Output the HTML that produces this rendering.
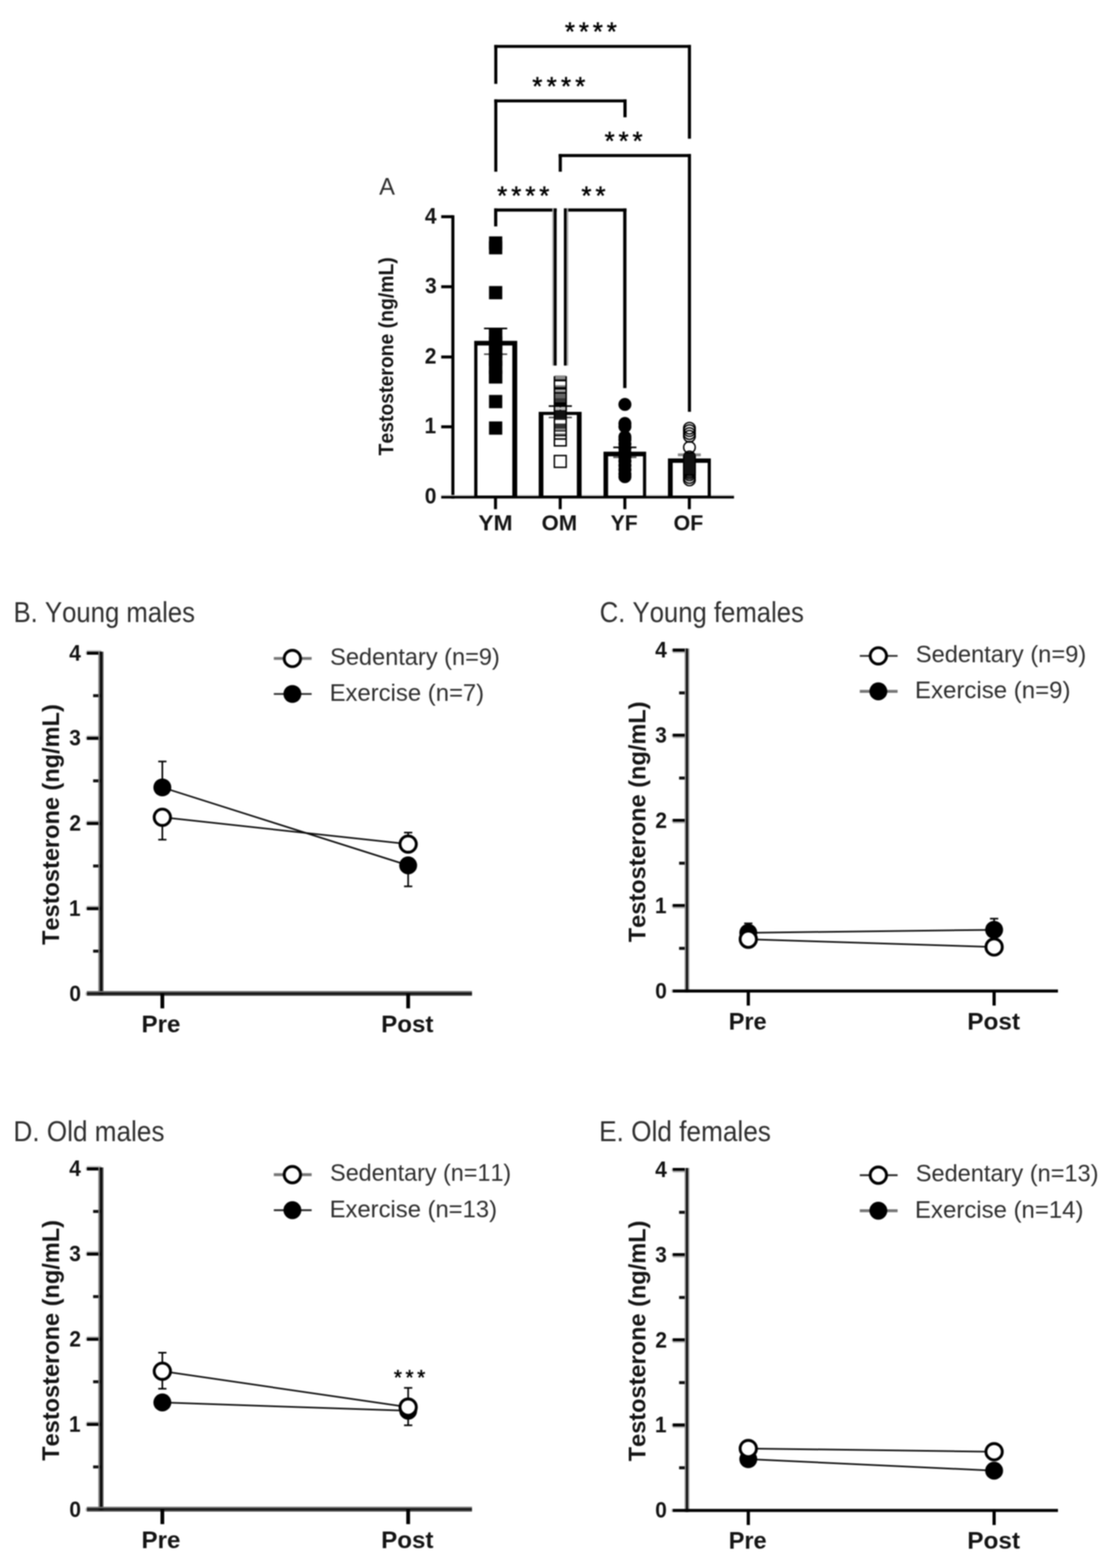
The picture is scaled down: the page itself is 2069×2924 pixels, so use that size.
<!DOCTYPE html>
<html lang="en"><head><meta charset="utf-8"><title>Testosterone figure</title>
<style>
html,body{margin:0;padding:0;background:#fff;}
body{width:2069px;height:2924px;overflow:hidden;}
svg{display:block;font-family:"Liberation Sans",Arial,Helvetica,sans-serif;fill:#000;filter:blur(1.0px);}
svg text{fill:#141414;font-kerning:none;}
svg text.r{fill:#2e2e2e;}
svg text.s{fill:#000;stroke:#000;stroke-width:0.9px;}
</style></head><body>
<svg role="img" aria-label="Testosterone figure" width="2069" height="2924" viewBox="0 0 2069 2924" shape-rendering="geometricPrecision">
<rect x="0" y="0" width="2069" height="2924" fill="#fff"/>
<rect x="841.3" y="401.4" width="5.7" height="528.3" fill="#000"/>
<rect x="822.4" y="924.8" width="545.8" height="4.8" fill="#000"/>
<rect x="822.4" y="922.9" width="545.8" height="1.9" fill="#c4c4c4"/>
<rect x="822.4" y="401.3" width="21.6" height="5.6" fill="#000"/>
<rect x="822.4" y="531.9" width="21.6" height="5.6" fill="#000"/>
<rect x="822.4" y="662.9" width="21.6" height="5.6" fill="#000"/>
<rect x="822.4" y="793.1" width="21.6" height="5.6" fill="#000"/>
<rect x="920.8" y="927.0" width="5.6" height="22.5" fill="#000"/>
<rect x="1041.4" y="927.0" width="5.6" height="22.5" fill="#000"/>
<rect x="1161.9" y="927.0" width="5.6" height="22.5" fill="#000"/>
<rect x="1282.1" y="927.0" width="5.6" height="22.5" fill="#000"/>
<rect x="883.9" y="635.6" width="80.2" height="291.4" fill="#000"/>
<rect x="889.9" y="644.3" width="65.0" height="279.8" fill="#fff"/>
<rect x="1004.1" y="768.0" width="80.0" height="159.0" fill="#000"/>
<rect x="1012.9" y="773.8" width="62.3" height="150.3" fill="#fff"/>
<rect x="1124.9" y="842.3" width="79.5" height="84.7" fill="#000"/>
<rect x="1133.5" y="850.9" width="65.0" height="73.2" fill="#fff"/>
<rect x="1245.0" y="854.9" width="80.0" height="72.1" fill="#000"/>
<rect x="1253.9" y="863.1" width="65.2" height="61.0" fill="#fff"/>
<line x1="923.8" y1="612.4" x2="923.8" y2="660.6" stroke="#000" stroke-width="3.0" stroke-linecap="butt"/>
<line x1="902.2" y1="612.4" x2="945.4" y2="612.4" stroke="#000" stroke-width="3.0" stroke-linecap="butt"/>
<line x1="902.2" y1="660.6" x2="945.4" y2="660.6" stroke="#555" stroke-width="3.0" stroke-linecap="butt"/>
<line x1="1044.4" y1="757.3" x2="1044.4" y2="778.6" stroke="#000" stroke-width="3.0" stroke-linecap="butt"/>
<line x1="1022.8" y1="757.3" x2="1066.0" y2="757.3" stroke="#000" stroke-width="3.0" stroke-linecap="butt"/>
<line x1="1022.8" y1="778.6" x2="1066.0" y2="778.6" stroke="#555" stroke-width="3.0" stroke-linecap="butt"/>
<line x1="1164.7" y1="834.2" x2="1164.7" y2="852.8" stroke="#000" stroke-width="3.0" stroke-linecap="butt"/>
<line x1="1143.1" y1="834.2" x2="1186.3" y2="834.2" stroke="#000" stroke-width="3.0" stroke-linecap="butt"/>
<line x1="1143.1" y1="852.8" x2="1186.3" y2="852.8" stroke="#555" stroke-width="3.0" stroke-linecap="butt"/>
<line x1="1263.5" y1="848.2" x2="1306.3" y2="848.2" stroke="#8a8a8a" stroke-width="5.2" stroke-linecap="butt"/>
<rect x="911.5" y="440.8" width="24.7" height="24.7" fill="#000"/>
<rect x="911.5" y="449.6" width="24.7" height="24.7" fill="#000"/>
<rect x="911.5" y="533.4" width="24.7" height="24.7" fill="#000"/>
<rect x="911.5" y="614.0" width="24.7" height="24.7" fill="#000"/>
<rect x="911.5" y="627.6" width="24.7" height="24.7" fill="#000"/>
<rect x="911.5" y="642.6" width="24.7" height="24.7" fill="#000"/>
<rect x="911.5" y="657.6" width="24.7" height="24.7" fill="#000"/>
<rect x="911.5" y="672.6" width="24.7" height="24.7" fill="#000"/>
<rect x="911.5" y="690.4" width="24.7" height="24.7" fill="#000"/>
<rect x="911.5" y="736.5" width="24.7" height="24.7" fill="#000"/>
<rect x="911.5" y="785.9" width="24.7" height="24.7" fill="#000"/>
<rect x="911.5" y="614.0" width="24.7" height="101.2" fill="#000"/>
<rect x="1034.0" y="700.1" width="20.7" height="7.3" fill="#8c8c8c"/>
<rect x="1034.0" y="707.4" width="20.7" height="3.8" fill="#000"/>
<rect x="1034.0" y="718.4" width="20.7" height="3.6" fill="#777"/>
<rect x="1034.0" y="722.0" width="20.7" height="4.7" fill="#000"/>
<rect x="1034.0" y="727.6" width="20.7" height="3.6" fill="#999"/>
<rect x="1034.0" y="731.2" width="20.7" height="2.8" fill="#000"/>
<rect x="1034.0" y="734.0" width="20.7" height="8.2" fill="#666"/>
<rect x="1034.0" y="742.2" width="20.7" height="7.3" fill="#333"/>
<rect x="1034.0" y="749.5" width="20.7" height="9.2" fill="#000"/>
<rect x="1034.0" y="759.5" width="20.7" height="4.5" fill="#bbb"/>
<rect x="1034.0" y="764.6" width="20.7" height="16.8" fill="#111"/>
<rect x="1034.0" y="781.4" width="20.7" height="1.6" fill="#000"/>
<rect x="1034.0" y="789.8" width="20.7" height="9.2" fill="#333"/>
<rect x="1034.0" y="799.0" width="20.7" height="3.6" fill="#888"/>
<rect x="1034.0" y="802.6" width="20.7" height="2.1" fill="#000"/>
<rect x="1034.0" y="808.1" width="20.7" height="2.7" fill="#777"/>
<rect x="1034.0" y="810.8" width="20.7" height="2.8" fill="#000"/>
<rect x="1034.0" y="817.2" width="20.7" height="3.0" fill="#000"/>
<rect x="1034.0" y="830.0" width="20.7" height="2.8" fill="#000"/>
<rect x="1032.0" y="701.5" width="2.8" height="131.3" fill="#000"/>
<rect x="1053.9" y="701.5" width="2.8" height="131.3" fill="#000"/>
<rect x="1033.3" y="849.5" width="22.0" height="22.0" fill="none" stroke="#000" stroke-width="2.7"/>
<circle cx="1164.8" cy="754.2" r="12.10" fill="#000"/>
<circle cx="1164.8" cy="789.7" r="12.10" fill="#000"/>
<circle cx="1164.8" cy="795.5" r="12.10" fill="#000"/>
<circle cx="1164.8" cy="814.9" r="12.10" fill="#000"/>
<circle cx="1164.8" cy="820.0" r="12.10" fill="#000"/>
<circle cx="1164.8" cy="828.0" r="12.10" fill="#000"/>
<circle cx="1164.8" cy="836.0" r="12.10" fill="#000"/>
<circle cx="1164.8" cy="844.0" r="12.10" fill="#000"/>
<circle cx="1164.8" cy="852.0" r="12.10" fill="#000"/>
<circle cx="1164.8" cy="860.0" r="12.10" fill="#000"/>
<circle cx="1164.8" cy="868.0" r="12.10" fill="#000"/>
<circle cx="1164.8" cy="876.0" r="12.10" fill="#000"/>
<circle cx="1164.8" cy="884.0" r="12.10" fill="#000"/>
<circle cx="1164.8" cy="888.9" r="12.10" fill="#000"/>
<circle cx="1285.1" cy="798.5" r="10.80" fill="none" stroke="#000" stroke-width="2.6"/>
<circle cx="1285.1" cy="803.0" r="10.80" fill="none" stroke="#000" stroke-width="2.6"/>
<circle cx="1285.1" cy="808.5" r="10.80" fill="none" stroke="#000" stroke-width="2.6"/>
<circle cx="1285.1" cy="813.6" r="10.80" fill="none" stroke="#000" stroke-width="2.6"/>
<circle cx="1285.1" cy="834.2" r="10.80" fill="none" stroke="#000" stroke-width="2.6"/>
<circle cx="1285.1" cy="852.0" r="10.80" fill="none" stroke="#000" stroke-width="2.6"/>
<circle cx="1285.1" cy="855.0" r="10.80" fill="none" stroke="#000" stroke-width="2.6"/>
<circle cx="1285.1" cy="858.0" r="10.80" fill="none" stroke="#000" stroke-width="2.6"/>
<circle cx="1285.1" cy="861.0" r="10.80" fill="none" stroke="#000" stroke-width="2.6"/>
<circle cx="1285.1" cy="864.0" r="10.80" fill="none" stroke="#000" stroke-width="2.6"/>
<circle cx="1285.1" cy="867.0" r="10.80" fill="none" stroke="#000" stroke-width="2.6"/>
<circle cx="1285.1" cy="870.0" r="10.80" fill="none" stroke="#000" stroke-width="2.6"/>
<circle cx="1285.1" cy="873.0" r="10.80" fill="none" stroke="#000" stroke-width="2.6"/>
<circle cx="1285.1" cy="876.0" r="10.80" fill="none" stroke="#000" stroke-width="2.6"/>
<circle cx="1285.1" cy="879.0" r="10.80" fill="none" stroke="#000" stroke-width="2.6"/>
<circle cx="1285.1" cy="882.0" r="10.80" fill="none" stroke="#000" stroke-width="2.6"/>
<circle cx="1285.1" cy="885.5" r="10.80" fill="none" stroke="#000" stroke-width="2.6"/>
<circle cx="1285.1" cy="890.5" r="10.80" fill="none" stroke="#000" stroke-width="2.6"/>
<circle cx="1285.1" cy="894.9" r="10.80" fill="none" stroke="#000" stroke-width="2.6"/>
<rect x="1275.5" y="846.0" width="19.2" height="38.0" fill="#111"/>
<rect x="921.3" y="83.8" width="366.7" height="5.5" fill="#000"/>
<rect x="921.3" y="83.8" width="5.7" height="72.6" fill="#000"/>
<rect x="1282.2" y="83.8" width="5.8" height="174.8" fill="#000"/>
<rect x="921.3" y="185.4" width="246.7" height="5.5" fill="#000"/>
<rect x="921.3" y="185.4" width="5.7" height="134.8" fill="#000"/>
<rect x="1162.0" y="185.4" width="6.0" height="33.3" fill="#000"/>
<rect x="1041.4" y="287.2" width="246.6" height="5.7" fill="#000"/>
<rect x="1041.4" y="287.2" width="5.9" height="33.0" fill="#000"/>
<rect x="1282.2" y="287.2" width="5.8" height="480.7" fill="#000"/>
<rect x="921.0" y="388.7" width="116.6" height="5.9" fill="#000"/>
<rect x="921.0" y="388.7" width="5.9" height="33.5" fill="#000"/>
<rect x="1032.1" y="388.7" width="5.5" height="293.0" fill="#000"/>
<rect x="1029.4" y="388.7" width="2.7" height="293.0" fill="#aaa"/>
<rect x="1051.0" y="388.7" width="116.7" height="5.9" fill="#000"/>
<rect x="1051.0" y="388.7" width="5.4" height="293.0" fill="#000"/>
<rect x="1056.4" y="388.7" width="2.9" height="293.0" fill="#aaa"/>
<rect x="1161.6" y="388.7" width="6.1" height="335.0" fill="#000"/>
<rect x="161.7" y="1689.0" width="26.9" height="2.7" fill="#b8b8b8"/>
<rect x="161.7" y="1691.6" width="26.9" height="5.7" fill="#000"/>
<rect x="159.4" y="1691.6" width="2.3" height="5.2" fill="#c8c8c8"/>
<rect x="161.7" y="1530.2" width="26.9" height="2.7" fill="#b8b8b8"/>
<rect x="161.7" y="1532.8" width="26.9" height="5.7" fill="#000"/>
<rect x="159.4" y="1532.8" width="2.3" height="5.2" fill="#c8c8c8"/>
<rect x="161.7" y="1371.4" width="26.9" height="2.7" fill="#b8b8b8"/>
<rect x="161.7" y="1374.0" width="26.9" height="5.7" fill="#000"/>
<rect x="159.4" y="1374.0" width="2.3" height="5.2" fill="#c8c8c8"/>
<rect x="161.7" y="1212.6" width="26.9" height="2.7" fill="#b8b8b8"/>
<rect x="161.7" y="1215.2" width="26.9" height="5.7" fill="#000"/>
<rect x="159.4" y="1215.2" width="2.3" height="5.2" fill="#c8c8c8"/>
<rect x="173.6" y="1770.9" width="15.0" height="5.6" fill="#111"/>
<rect x="173.6" y="1612.1" width="15.0" height="5.6" fill="#111"/>
<rect x="173.6" y="1453.3" width="15.0" height="5.6" fill="#111"/>
<rect x="173.6" y="1294.5" width="15.0" height="5.6" fill="#111"/>
<rect x="183.3" y="1215.2" width="3.0" height="641.0" fill="#7a7a7a"/>
<rect x="186.3" y="1215.2" width="3.7" height="641.0" fill="#000"/>
<rect x="190.0" y="1215.2" width="2.8" height="641.0" fill="#484848"/>
<rect x="161.7" y="1848.0" width="718.1" height="3.1" fill="#6a6a6a"/>
<rect x="161.7" y="1851.1" width="718.1" height="2.8" fill="#000"/>
<rect x="161.7" y="1853.9" width="718.1" height="3.0" fill="#3a3a3a"/>
<rect x="159.2" y="1850.4" width="2.5" height="5.7" fill="#bdbdbd"/>
<rect x="299.1" y="1853.2" width="7.0" height="27.2" fill="#000"/>
<rect x="757.3" y="1853.2" width="7.0" height="27.2" fill="#000"/>
<line x1="302.6" y1="1468.4" x2="760.8" y2="1613.8" stroke="#0c0c0c" stroke-width="3.0" stroke-linecap="butt"/>
<line x1="302.6" y1="1524.1" x2="760.8" y2="1574.1" stroke="#0c0c0c" stroke-width="3.0" stroke-linecap="butt"/>
<line x1="302.6" y1="1468.4" x2="302.6" y2="1420.0" stroke="#000" stroke-width="3.0" stroke-linecap="butt"/>
<line x1="294.9" y1="1420.0" x2="310.3" y2="1420.0" stroke="#000" stroke-width="3.0" stroke-linecap="butt"/>
<line x1="760.8" y1="1613.8" x2="760.8" y2="1652.9" stroke="#000" stroke-width="3.0" stroke-linecap="butt"/>
<line x1="753.1" y1="1652.9" x2="768.5" y2="1652.9" stroke="#000" stroke-width="3.0" stroke-linecap="butt"/>
<circle cx="302.6" cy="1468.4" r="16.70" fill="#000"/>
<circle cx="760.8" cy="1613.8" r="16.70" fill="#000"/>
<line x1="302.6" y1="1524.1" x2="302.6" y2="1565.8" stroke="#000" stroke-width="3.0" stroke-linecap="butt"/>
<line x1="294.9" y1="1565.8" x2="310.3" y2="1565.8" stroke="#000" stroke-width="3.0" stroke-linecap="butt"/>
<line x1="760.8" y1="1574.1" x2="760.8" y2="1552.6" stroke="#000" stroke-width="3.0" stroke-linecap="butt"/>
<line x1="753.1" y1="1552.6" x2="768.5" y2="1552.6" stroke="#000" stroke-width="3.0" stroke-linecap="butt"/>
<circle cx="302.6" cy="1524.1" r="15.20" fill="#fff" stroke="#000" stroke-width="5.4"/>
<circle cx="760.8" cy="1574.1" r="15.20" fill="#fff" stroke="#000" stroke-width="5.4"/>
<line x1="510.4" y1="1227.9" x2="580.9" y2="1227.9" stroke="#777" stroke-width="5.4" stroke-linecap="butt"/>
<circle cx="545.0" cy="1227.9" r="15.20" fill="#fff" stroke="#000" stroke-width="5.4"/>
<line x1="510.4" y1="1294.1" x2="580.9" y2="1294.1" stroke="#2a2a2a" stroke-width="3.4" stroke-linecap="butt"/>
<circle cx="545.0" cy="1294.1" r="16.70" fill="#000"/>
<rect x="1253.9" y="1685.8" width="26.9" height="5.6" fill="#000"/>
<rect x="1253.9" y="1691.4" width="26.9" height="2.7" fill="#b0b0b0"/>
<rect x="1251.6" y="1686.4" width="2.3" height="5.2" fill="#c8c8c8"/>
<rect x="1253.9" y="1527.0" width="26.9" height="5.6" fill="#000"/>
<rect x="1253.9" y="1532.6" width="26.9" height="2.7" fill="#b0b0b0"/>
<rect x="1251.6" y="1527.6" width="2.3" height="5.2" fill="#c8c8c8"/>
<rect x="1253.9" y="1368.2" width="26.9" height="5.6" fill="#000"/>
<rect x="1253.9" y="1373.8" width="26.9" height="2.7" fill="#b0b0b0"/>
<rect x="1251.6" y="1368.8" width="2.3" height="5.2" fill="#c8c8c8"/>
<rect x="1253.9" y="1209.4" width="26.9" height="5.6" fill="#000"/>
<rect x="1253.9" y="1215.0" width="26.9" height="2.7" fill="#b0b0b0"/>
<rect x="1251.6" y="1210.0" width="2.3" height="5.2" fill="#c8c8c8"/>
<rect x="1265.8" y="1765.7" width="15.0" height="5.6" fill="#111"/>
<rect x="1265.8" y="1606.9" width="15.0" height="5.6" fill="#111"/>
<rect x="1265.8" y="1448.1" width="15.0" height="5.6" fill="#111"/>
<rect x="1265.8" y="1289.3" width="15.0" height="5.6" fill="#111"/>
<rect x="1276.2" y="1209.4" width="2.7" height="641.6" fill="#858585"/>
<rect x="1278.9" y="1209.4" width="3.1" height="641.6" fill="#000"/>
<rect x="1282.0" y="1209.4" width="2.8" height="641.6" fill="#858585"/>
<rect x="1253.9" y="1845.2" width="718.1" height="5.7" fill="#000"/>
<rect x="1251.4" y="1845.2" width="2.5" height="5.7" fill="#bdbdbd"/>
<rect x="1391.8" y="1848.0" width="6.0" height="27.2" fill="#000"/>
<rect x="1850.0" y="1848.0" width="6.0" height="27.2" fill="#000"/>
<line x1="1394.8" y1="1739.4" x2="1853.0" y2="1733.9" stroke="#0c0c0c" stroke-width="3.0" stroke-linecap="butt"/>
<line x1="1394.8" y1="1751.5" x2="1853.0" y2="1765.9" stroke="#0c0c0c" stroke-width="3.0" stroke-linecap="butt"/>
<line x1="1394.8" y1="1739.4" x2="1394.8" y2="1721.9" stroke="#000" stroke-width="3.0" stroke-linecap="butt"/>
<line x1="1387.1" y1="1721.9" x2="1402.5" y2="1721.9" stroke="#000" stroke-width="3.0" stroke-linecap="butt"/>
<line x1="1853.0" y1="1733.9" x2="1853.0" y2="1713.1" stroke="#000" stroke-width="3.0" stroke-linecap="butt"/>
<line x1="1845.3" y1="1713.1" x2="1860.7" y2="1713.1" stroke="#000" stroke-width="3.0" stroke-linecap="butt"/>
<circle cx="1394.8" cy="1739.4" r="16.70" fill="#000"/>
<circle cx="1853.0" cy="1733.9" r="16.70" fill="#000"/>
<circle cx="1394.8" cy="1751.5" r="15.20" fill="#fff" stroke="#000" stroke-width="5.4"/>
<circle cx="1853.0" cy="1765.9" r="15.20" fill="#fff" stroke="#000" stroke-width="5.4"/>
<line x1="1602.6" y1="1223.1" x2="1673.1" y2="1223.1" stroke="#2a2a2a" stroke-width="3.4" stroke-linecap="butt"/>
<circle cx="1637.2" cy="1223.1" r="15.20" fill="#fff" stroke="#000" stroke-width="5.4"/>
<line x1="1602.6" y1="1289.3" x2="1673.1" y2="1289.3" stroke="#777" stroke-width="5.4" stroke-linecap="butt"/>
<circle cx="1637.2" cy="1289.3" r="16.70" fill="#000"/>
<rect x="161.7" y="2650.8" width="26.9" height="2.7" fill="#b8b8b8"/>
<rect x="161.7" y="2653.4" width="26.9" height="5.7" fill="#000"/>
<rect x="159.4" y="2653.4" width="2.3" height="5.2" fill="#c8c8c8"/>
<rect x="161.7" y="2492.0" width="26.9" height="2.7" fill="#b8b8b8"/>
<rect x="161.7" y="2494.6" width="26.9" height="5.7" fill="#000"/>
<rect x="159.4" y="2494.6" width="2.3" height="5.2" fill="#c8c8c8"/>
<rect x="161.7" y="2333.2" width="26.9" height="2.7" fill="#b8b8b8"/>
<rect x="161.7" y="2335.8" width="26.9" height="5.7" fill="#000"/>
<rect x="159.4" y="2335.8" width="2.3" height="5.2" fill="#c8c8c8"/>
<rect x="161.7" y="2174.4" width="26.9" height="2.7" fill="#b8b8b8"/>
<rect x="161.7" y="2177.0" width="26.9" height="5.7" fill="#000"/>
<rect x="159.4" y="2177.0" width="2.3" height="5.2" fill="#c8c8c8"/>
<rect x="173.6" y="2732.7" width="15.0" height="5.6" fill="#111"/>
<rect x="173.6" y="2573.9" width="15.0" height="5.6" fill="#111"/>
<rect x="173.6" y="2415.1" width="15.0" height="5.6" fill="#111"/>
<rect x="173.6" y="2256.3" width="15.0" height="5.6" fill="#111"/>
<rect x="183.3" y="2177.0" width="3.0" height="641.0" fill="#7a7a7a"/>
<rect x="186.3" y="2177.0" width="3.7" height="641.0" fill="#000"/>
<rect x="190.0" y="2177.0" width="2.8" height="641.0" fill="#484848"/>
<rect x="161.7" y="2809.8" width="718.1" height="3.1" fill="#6a6a6a"/>
<rect x="161.7" y="2812.9" width="718.1" height="2.8" fill="#000"/>
<rect x="161.7" y="2815.7" width="718.1" height="3.0" fill="#3a3a3a"/>
<rect x="159.2" y="2812.2" width="2.5" height="5.7" fill="#bdbdbd"/>
<rect x="299.1" y="2815.0" width="7.0" height="27.2" fill="#000"/>
<rect x="757.3" y="2815.0" width="7.0" height="27.2" fill="#000"/>
<line x1="302.6" y1="2615.3" x2="760.8" y2="2630.8" stroke="#0c0c0c" stroke-width="3.0" stroke-linecap="butt"/>
<line x1="302.6" y1="2557.1" x2="760.8" y2="2624.0" stroke="#0c0c0c" stroke-width="3.0" stroke-linecap="butt"/>
<line x1="760.8" y1="2630.8" x2="760.8" y2="2657.9" stroke="#000" stroke-width="3.0" stroke-linecap="butt"/>
<line x1="753.1" y1="2657.9" x2="768.5" y2="2657.9" stroke="#000" stroke-width="3.0" stroke-linecap="butt"/>
<circle cx="302.6" cy="2615.3" r="16.70" fill="#000"/>
<circle cx="760.8" cy="2630.8" r="16.70" fill="#000"/>
<line x1="302.6" y1="2557.1" x2="302.6" y2="2522.5" stroke="#000" stroke-width="3.0" stroke-linecap="butt"/>
<line x1="294.9" y1="2522.5" x2="310.3" y2="2522.5" stroke="#000" stroke-width="3.0" stroke-linecap="butt"/>
<line x1="302.6" y1="2557.1" x2="302.6" y2="2589.7" stroke="#000" stroke-width="3.0" stroke-linecap="butt"/>
<line x1="294.9" y1="2589.7" x2="310.3" y2="2589.7" stroke="#000" stroke-width="3.0" stroke-linecap="butt"/>
<line x1="760.8" y1="2624.0" x2="760.8" y2="2588.1" stroke="#000" stroke-width="3.0" stroke-linecap="butt"/>
<line x1="753.1" y1="2588.1" x2="768.5" y2="2588.1" stroke="#000" stroke-width="3.0" stroke-linecap="butt"/>
<circle cx="302.6" cy="2557.1" r="15.20" fill="#fff" stroke="#000" stroke-width="5.4"/>
<circle cx="760.8" cy="2624.0" r="15.20" fill="#fff" stroke="#000" stroke-width="5.4"/>
<line x1="510.4" y1="2190.5" x2="580.9" y2="2190.5" stroke="#777" stroke-width="5.4" stroke-linecap="butt"/>
<circle cx="545.0" cy="2190.5" r="15.20" fill="#fff" stroke="#000" stroke-width="5.4"/>
<line x1="510.4" y1="2256.7" x2="580.9" y2="2256.7" stroke="#2a2a2a" stroke-width="3.4" stroke-linecap="butt"/>
<circle cx="545.0" cy="2256.7" r="16.70" fill="#000"/>
<rect x="1253.9" y="2654.4" width="26.9" height="5.6" fill="#000"/>
<rect x="1253.9" y="2660.0" width="26.9" height="2.7" fill="#b0b0b0"/>
<rect x="1251.6" y="2655.0" width="2.3" height="5.2" fill="#c8c8c8"/>
<rect x="1253.9" y="2495.6" width="26.9" height="5.6" fill="#000"/>
<rect x="1253.9" y="2501.2" width="26.9" height="2.7" fill="#b0b0b0"/>
<rect x="1251.6" y="2496.2" width="2.3" height="5.2" fill="#c8c8c8"/>
<rect x="1253.9" y="2336.8" width="26.9" height="5.6" fill="#000"/>
<rect x="1253.9" y="2342.4" width="26.9" height="2.7" fill="#b0b0b0"/>
<rect x="1251.6" y="2337.4" width="2.3" height="5.2" fill="#c8c8c8"/>
<rect x="1253.9" y="2178.0" width="26.9" height="5.6" fill="#000"/>
<rect x="1253.9" y="2183.6" width="26.9" height="2.7" fill="#b0b0b0"/>
<rect x="1251.6" y="2178.6" width="2.3" height="5.2" fill="#c8c8c8"/>
<rect x="1265.8" y="2734.3" width="15.0" height="5.6" fill="#111"/>
<rect x="1265.8" y="2575.5" width="15.0" height="5.6" fill="#111"/>
<rect x="1265.8" y="2416.7" width="15.0" height="5.6" fill="#111"/>
<rect x="1265.8" y="2257.9" width="15.0" height="5.6" fill="#111"/>
<rect x="1276.2" y="2178.0" width="2.7" height="641.6" fill="#858585"/>
<rect x="1278.9" y="2178.0" width="3.1" height="641.6" fill="#000"/>
<rect x="1282.0" y="2178.0" width="2.8" height="641.6" fill="#858585"/>
<rect x="1253.9" y="2813.8" width="718.1" height="5.7" fill="#000"/>
<rect x="1251.4" y="2813.8" width="2.5" height="5.7" fill="#bdbdbd"/>
<rect x="1391.8" y="2816.6" width="6.0" height="27.2" fill="#000"/>
<rect x="1850.0" y="2816.6" width="6.0" height="27.2" fill="#000"/>
<line x1="1394.8" y1="2721.1" x2="1853.0" y2="2742.5" stroke="#0c0c0c" stroke-width="3.0" stroke-linecap="butt"/>
<line x1="1394.8" y1="2701.2" x2="1853.0" y2="2707.2" stroke="#0c0c0c" stroke-width="3.0" stroke-linecap="butt"/>
<circle cx="1394.8" cy="2721.1" r="16.70" fill="#000"/>
<circle cx="1853.0" cy="2742.5" r="16.70" fill="#000"/>
<circle cx="1394.8" cy="2701.2" r="15.20" fill="#fff" stroke="#000" stroke-width="5.4"/>
<circle cx="1853.0" cy="2707.2" r="15.20" fill="#fff" stroke="#000" stroke-width="5.4"/>
<line x1="1602.6" y1="2191.5" x2="1673.1" y2="2191.5" stroke="#2a2a2a" stroke-width="3.4" stroke-linecap="butt"/>
<circle cx="1637.2" cy="2191.5" r="15.20" fill="#fff" stroke="#000" stroke-width="5.4"/>
<line x1="1602.6" y1="2257.7" x2="1673.1" y2="2257.7" stroke="#777" stroke-width="5.4" stroke-linecap="butt"/>
<circle cx="1637.2" cy="2257.7" r="16.70" fill="#000"/>
<text id="A_t4" x="791.90" y="416.50" font-size="42" font-weight="bold" textLength="21.72" lengthAdjust="spacingAndGlyphs">4</text>
<text id="A_t3" x="792.22" y="547.10" font-size="42" font-weight="bold" textLength="21.72" lengthAdjust="spacingAndGlyphs">3</text>
<text id="A_t2" x="791.85" y="678.10" font-size="42" font-weight="bold" textLength="21.72" lengthAdjust="spacingAndGlyphs">2</text>
<text id="A_t1" x="791.15" y="808.30" font-size="42" font-weight="bold" textLength="21.72" lengthAdjust="spacingAndGlyphs">1</text>
<text id="A_t0" x="791.80" y="939.30" font-size="42" font-weight="bold" textLength="21.72" lengthAdjust="spacingAndGlyphs">0</text>
<text id="A_YM" x="891.76" y="988.60" font-size="41" font-weight="bold" textLength="63.72" lengthAdjust="spacingAndGlyphs">YM</text>
<text id="A_OM" x="1009.58" y="988.60" font-size="41" font-weight="bold" textLength="66.21" lengthAdjust="spacingAndGlyphs">OM</text>
<text id="A_YF" x="1138.13" y="988.60" font-size="41" font-weight="bold" textLength="50.40" lengthAdjust="spacingAndGlyphs">YF</text>
<text id="A_OF" x="1255.59" y="988.60" font-size="41" font-weight="bold" textLength="55.38" lengthAdjust="spacingAndGlyphs">OF</text>
<text id="A_title" transform="translate(732.80,849.43) rotate(-90)" font-size="39" font-weight="bold" textLength="369.77" lengthAdjust="spacingAndGlyphs">Testosterone (ng/mL)</text>
<text id="A_A" class="r" x="706.84" y="363.00" font-size="44" font-weight="normal">A</text>
<text id="A_s1" class="s" x="1052.91" y="75.07" font-size="48" font-weight="normal" textLength="96.87" lengthAdjust="spacing">****</text>
<text id="A_s2" class="s" x="992.36" y="176.87" font-size="48" font-weight="normal" textLength="98.62" lengthAdjust="spacing">****</text>
<text id="A_s3" class="s" x="1126.88" y="278.68" font-size="48" font-weight="normal" textLength="70.88" lengthAdjust="spacing">***</text>
<text id="A_s4" class="s" x="926.68" y="381.07" font-size="48" font-weight="normal" textLength="97.38" lengthAdjust="spacing">****</text>
<text id="A_s5" class="s" x="1083.68" y="381.08" font-size="48" font-weight="normal" textLength="45.00" lengthAdjust="spacing">**</text>
<text id="B_l1" class="r" x="615.36" y="1239.70" font-size="44" font-weight="normal" textLength="316.30" lengthAdjust="spacingAndGlyphs">Sedentary (n=9)</text>
<text id="B_l2" class="r" x="614.40" y="1306.90" font-size="44" font-weight="normal" textLength="288.03" lengthAdjust="spacingAndGlyphs">Exercise (n=7)</text>
<text id="B_t0" x="129.17" y="1866.80" font-size="42" font-weight="bold" textLength="21.72" lengthAdjust="spacingAndGlyphs">0</text>
<text id="B_t1" x="128.58" y="1708.00" font-size="42" font-weight="bold" textLength="21.72" lengthAdjust="spacingAndGlyphs">1</text>
<text id="B_t2" x="129.27" y="1549.20" font-size="42" font-weight="bold" textLength="21.72" lengthAdjust="spacingAndGlyphs">2</text>
<text id="B_t3" x="129.12" y="1390.40" font-size="42" font-weight="bold" textLength="21.72" lengthAdjust="spacingAndGlyphs">3</text>
<text id="B_t4" x="129.10" y="1231.60" font-size="42" font-weight="bold" textLength="21.72" lengthAdjust="spacingAndGlyphs">4</text>
<text id="B_pre" x="263.75" y="1924.70" font-size="43.5" font-weight="bold" textLength="72.44" lengthAdjust="spacingAndGlyphs">Pre</text>
<text id="B_post" x="710.64" y="1924.70" font-size="43.5" font-weight="bold" textLength="97.19" lengthAdjust="spacingAndGlyphs">Post</text>
<text id="B_title" transform="translate(110.30,1761.96) rotate(-90)" font-size="43.5" font-weight="bold" textLength="448.73" lengthAdjust="spacingAndGlyphs">Testosterone (ng/mL)</text>
<text id="B_T" class="r" x="25.14" y="1160.00" font-size="54" font-weight="normal" textLength="338.29" lengthAdjust="spacingAndGlyphs">B. Young males</text>
<text id="C_l1" class="r" x="1706.98" y="1234.90" font-size="44" font-weight="normal" textLength="317.69" lengthAdjust="spacingAndGlyphs">Sedentary (n=9)</text>
<text id="C_l2" class="r" x="1705.57" y="1302.10" font-size="44" font-weight="normal" textLength="289.79" lengthAdjust="spacingAndGlyphs">Exercise (n=9)</text>
<text id="C_t0" x="1221.34" y="1861.60" font-size="42" font-weight="bold" textLength="21.72" lengthAdjust="spacingAndGlyphs">0</text>
<text id="C_t1" x="1220.84" y="1702.80" font-size="42" font-weight="bold" textLength="21.72" lengthAdjust="spacingAndGlyphs">1</text>
<text id="C_t2" x="1221.38" y="1544.00" font-size="42" font-weight="bold" textLength="21.72" lengthAdjust="spacingAndGlyphs">2</text>
<text id="C_t3" x="1221.27" y="1385.20" font-size="42" font-weight="bold" textLength="21.72" lengthAdjust="spacingAndGlyphs">3</text>
<text id="C_t4" x="1221.26" y="1226.40" font-size="42" font-weight="bold" textLength="21.72" lengthAdjust="spacingAndGlyphs">4</text>
<text id="C_pre" x="1358.15" y="1919.50" font-size="43.5" font-weight="bold" textLength="70.80" lengthAdjust="spacingAndGlyphs">Pre</text>
<text id="C_post" x="1803.11" y="1919.50" font-size="43.5" font-weight="bold" textLength="98.17" lengthAdjust="spacingAndGlyphs">Post</text>
<text id="C_title" transform="translate(1202.50,1757.03) rotate(-90)" font-size="43.5" font-weight="bold" textLength="449.00" lengthAdjust="spacingAndGlyphs">Testosterone (ng/mL)</text>
<text id="C_T" class="r" x="1117.77" y="1160.00" font-size="54" font-weight="normal" textLength="380.69" lengthAdjust="spacingAndGlyphs">C. Young females</text>
<text id="D_l1" class="r" x="615.36" y="2202.30" font-size="44" font-weight="normal" textLength="337.50" lengthAdjust="spacingAndGlyphs">Sedentary (n=11)</text>
<text id="D_l2" class="r" x="614.40" y="2269.50" font-size="44" font-weight="normal" textLength="312.05" lengthAdjust="spacingAndGlyphs">Exercise (n=13)</text>
<text id="D_t0" x="129.17" y="2828.60" font-size="42" font-weight="bold" textLength="21.72" lengthAdjust="spacingAndGlyphs">0</text>
<text id="D_t1" x="128.58" y="2669.80" font-size="42" font-weight="bold" textLength="21.72" lengthAdjust="spacingAndGlyphs">1</text>
<text id="D_t2" x="129.27" y="2511.00" font-size="42" font-weight="bold" textLength="21.72" lengthAdjust="spacingAndGlyphs">2</text>
<text id="D_t3" x="129.12" y="2352.20" font-size="42" font-weight="bold" textLength="21.72" lengthAdjust="spacingAndGlyphs">3</text>
<text id="D_t4" x="129.10" y="2193.40" font-size="42" font-weight="bold" textLength="21.72" lengthAdjust="spacingAndGlyphs">4</text>
<text id="D_pre" x="263.75" y="2886.50" font-size="43.5" font-weight="bold" textLength="72.44" lengthAdjust="spacingAndGlyphs">Pre</text>
<text id="D_post" x="710.64" y="2886.50" font-size="43.5" font-weight="bold" textLength="97.19" lengthAdjust="spacingAndGlyphs">Post</text>
<text id="D_title" transform="translate(110.30,2724.03) rotate(-90)" font-size="43.5" font-weight="bold" textLength="449.00" lengthAdjust="spacingAndGlyphs">Testosterone (ng/mL)</text>
<text id="D_T" class="r" x="24.99" y="2127.70" font-size="54" font-weight="normal" textLength="281.60" lengthAdjust="spacingAndGlyphs">D. Old males</text>
<text id="D_s" class="s" x="734.31" y="2581.95" font-size="38" font-weight="normal" textLength="58.19" lengthAdjust="spacing">***</text>
<text id="E_l1" class="r" x="1706.97" y="2203.30" font-size="44" font-weight="normal" textLength="340.61" lengthAdjust="spacingAndGlyphs">Sedentary (n=13)</text>
<text id="E_l2" class="r" x="1705.58" y="2270.50" font-size="44" font-weight="normal" textLength="313.98" lengthAdjust="spacingAndGlyphs">Exercise (n=14)</text>
<text id="E_t0" x="1221.34" y="2830.20" font-size="42" font-weight="bold" textLength="21.72" lengthAdjust="spacingAndGlyphs">0</text>
<text id="E_t1" x="1220.84" y="2671.40" font-size="42" font-weight="bold" textLength="21.72" lengthAdjust="spacingAndGlyphs">1</text>
<text id="E_t2" x="1221.38" y="2512.60" font-size="42" font-weight="bold" textLength="21.72" lengthAdjust="spacingAndGlyphs">2</text>
<text id="E_t3" x="1221.27" y="2353.80" font-size="42" font-weight="bold" textLength="21.72" lengthAdjust="spacingAndGlyphs">3</text>
<text id="E_t4" x="1221.26" y="2195.00" font-size="42" font-weight="bold" textLength="21.72" lengthAdjust="spacingAndGlyphs">4</text>
<text id="E_pre" x="1358.15" y="2888.10" font-size="43.5" font-weight="bold" textLength="70.80" lengthAdjust="spacingAndGlyphs">Pre</text>
<text id="E_post" x="1803.11" y="2888.10" font-size="43.5" font-weight="bold" textLength="98.17" lengthAdjust="spacingAndGlyphs">Post</text>
<text id="E_title" transform="translate(1202.50,2725.11) rotate(-90)" font-size="43.5" font-weight="bold" textLength="449.00" lengthAdjust="spacingAndGlyphs">Testosterone (ng/mL)</text>
<text id="E_T" class="r" x="1116.73" y="2127.70" font-size="54" font-weight="normal" textLength="320.28" lengthAdjust="spacingAndGlyphs">E. Old females</text>
</svg>
</body></html>
